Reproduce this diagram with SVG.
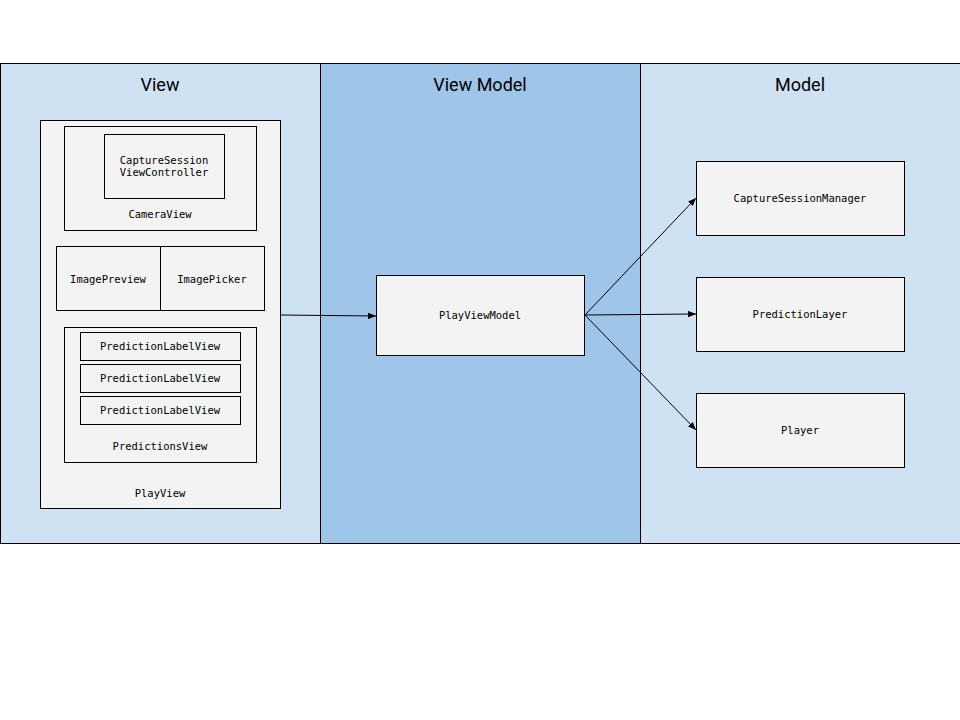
<svg xmlns="http://www.w3.org/2000/svg" width="960" height="720" viewBox="0 0 960 720">
<style>
.lane{stroke:#000;stroke-width:1}
.box{fill:#f3f3f3;stroke:#000;stroke-width:1}
.t{font-family:"DejaVu Sans Mono","Liberation Mono",monospace;font-size:10.5px;fill:#000;text-anchor:middle;dominant-baseline:central}
.h{font-family:Roboto,"Liberation Sans",Arial,sans-serif;font-size:18px;fill:#000;text-anchor:middle;dominant-baseline:central}
.c{stroke:#000;stroke-width:1;fill:none;marker-end:url(#a)}
</style>
<defs>
<marker id="a" viewBox="0 0 10 8" refX="10" refY="4" markerWidth="8" markerHeight="6.4" markerUnits="userSpaceOnUse" orient="auto">
<path d="M0,0 L10,4 L0,8 z" fill="#000"/>
</marker>
</defs>
<rect width="960" height="720" fill="#fff"/>
<g id="lanes">
<rect class="lane" x="0.5" y="63.5" width="320" height="480" fill="#cfe2f3"/>
<rect class="lane" x="320.5" y="63.5" width="320" height="480" fill="#9fc5e8"/>
<rect class="lane" x="640.5" y="63.5" width="320" height="480" fill="#cfe2f3"/>
<text class="h" x="160" y="84">View</text>
<text class="h" x="480" y="84">View Model</text>
<text class="h" x="800" y="84">Model</text>
</g>
<g id="PlayView">
<rect class="box" x="40.5" y="120.5" width="240" height="388"/>
<text class="t" x="160" y="493">PlayView</text>
</g>
<g id="CameraView">
<rect class="box" x="64.5" y="126.5" width="192" height="104"/>
<text class="t" x="160" y="214">CameraView</text>
</g>
<g id="CaptureSessionViewController">
<rect class="box" x="104.5" y="134.5" width="120" height="64"/>
<text class="t" x="164" y="160">CaptureSession</text>
<text class="t" x="164" y="172">ViewController</text>
</g>
<g id="ImagePreview">
<rect class="box" x="56.5" y="246.5" width="104" height="64"/>
<text class="t" x="108" y="279">ImagePreview</text>
</g>
<g id="ImagePicker">
<rect class="box" x="160.5" y="246.5" width="104" height="64"/>
<text class="t" x="212" y="279">ImagePicker</text>
</g>
<g id="PredictionsView">
<rect class="box" x="64.5" y="327.5" width="192" height="135"/>
<text class="t" x="160" y="446">PredictionsView</text>
</g>
<g id="PredictionLabelView1">
<rect class="box" x="80.5" y="332.5" width="160" height="28"/>
<text class="t" x="160" y="346">PredictionLabelView</text>
</g>
<g id="PredictionLabelView2">
<rect class="box" x="80.5" y="364.5" width="160" height="28"/>
<text class="t" x="160" y="378">PredictionLabelView</text>
</g>
<g id="PredictionLabelView3">
<rect class="box" x="80.5" y="396.5" width="160" height="28"/>
<text class="t" x="160" y="410">PredictionLabelView</text>
</g>
<g id="PlayViewModel">
<rect class="box" x="376.5" y="275.5" width="208" height="80"/>
<text class="t" x="480" y="315">PlayViewModel</text>
</g>
<g id="CaptureSessionManager">
<rect class="box" x="696.5" y="161.5" width="208" height="74"/>
<text class="t" x="800" y="198">CaptureSessionManager</text>
</g>
<g id="PredictionLayer">
<rect class="box" x="696.5" y="277.5" width="208" height="74"/>
<text class="t" x="800" y="314">PredictionLayer</text>
</g>
<g id="Player">
<rect class="box" x="696.5" y="393.5" width="208" height="74"/>
<text class="t" x="800" y="430">Player</text>
</g>
<g id="connectors">
<path class="c" d="M281,315 L376,316"/>
<path class="c" d="M585,315 L696,198"/>
<path class="c" d="M585,315 L696,314"/>
<path class="c" d="M585,315 L696,430"/>
</g>
</svg>
